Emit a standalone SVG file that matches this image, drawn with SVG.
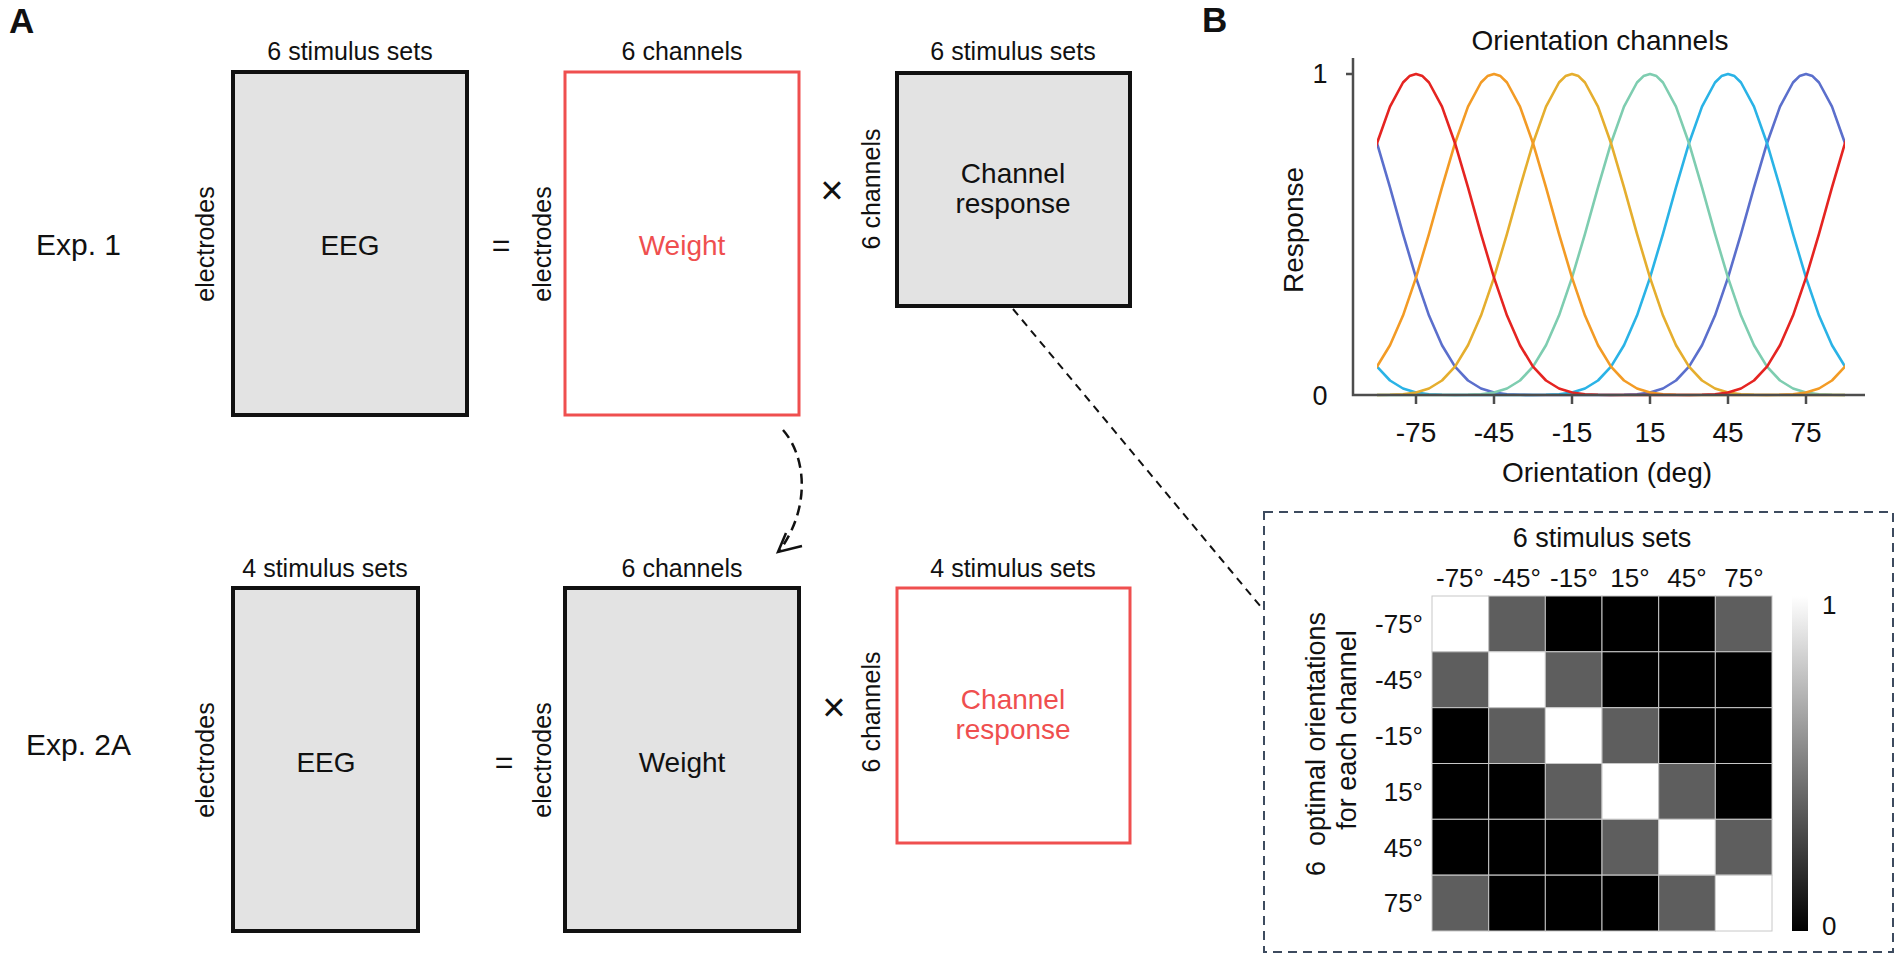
<svg xmlns="http://www.w3.org/2000/svg" xmlns:xlink="http://www.w3.org/1999/xlink" width="1901" height="961" viewBox="0 0 1901 961">
<style>
text{font-family:"Liberation Sans",Arial,sans-serif;fill:#111}
.lab{font-size:25px;text-anchor:middle}
.big{font-size:28px;text-anchor:middle}
.eq{font-size:32px;text-anchor:middle}
.x{font-size:40px;text-anchor:middle}
.red{fill:#ef4f4f}
.panel{font-size:35px;font-weight:bold}
.gbox{fill:#e3e3e3;stroke:#111;stroke-width:4}
.rbox{fill:#fff;stroke:#ef4f4f;stroke-width:3}
.ax{stroke:#4d4d4d;stroke-width:2.5;fill:none}
.tk{font-size:28px;text-anchor:middle}
.ml{font-size:26px;text-anchor:middle}
.rl{font-size:26px;text-anchor:end}
.cell{stroke:#c8c8c8;stroke-width:1}
.w{fill:#fff}.g{fill:#5e5e5e}.k{fill:#000}
.crv{stroke-width:2.6;fill:none;stroke-linejoin:round}
</style>
<defs>
<polyline id="bump" fill="none" points="-234,0 -221,0 -208,0 -195,0 -182,-0.2 -169,-0.8 -156,-2.5 -143,-6.5 -130,-14.5 -117,-28.4 -104,-49.7 -91,-79.4 -78,-117.3 -65,-161.2 -52,-207.7 -39,-251.8 -26,-288.4 -13,-312.5 -6.5,-318.9 0,-321 6.5,-318.9 13,-312.5 26,-288.4 39,-251.8 52,-207.7 65,-161.2 78,-117.3 91,-79.4 104,-49.7 117,-28.4 130,-14.5 143,-6.5 156,-2.5 169,-0.8 182,-0.2 195,0 208,0 221,0 234,0"/>
<g id="per"><use xlink:href="#bump" x="-468"/><use xlink:href="#bump"/><use xlink:href="#bump" x="468"/></g>
<clipPath id="pc"><rect x="1377" y="40" width="468" height="370"/></clipPath>
<linearGradient id="cb" x1="0" y1="0" x2="0" y2="1"><stop offset="0" stop-color="#fff"/><stop offset="1" stop-color="#000"/></linearGradient>
</defs>
<rect width="1901" height="961" fill="#fff"/>

<text class="panel" x="9" y="33">A</text>
<text class="panel" x="1202" y="32">B</text>

<g id="exp1-label"><text x="36" y="255" style="font-size:30px">Exp. 1</text></g>
<g id="exp2a-label"><text x="26" y="755" style="font-size:30px">Exp. 2A</text></g>

<g id="eeg1">
<text class="lab" x="350" y="60">6 stimulus sets</text>
<rect class="gbox" x="233" y="72" width="234" height="343"/>
<text class="lab" transform="translate(214,244) rotate(-90)">electrodes</text>
<text class="big" x="350" y="255">EEG</text>
</g>
<text class="eq" x="501" y="256">=</text>
<g id="weight1">
<text class="lab" x="682" y="60">6 channels</text>
<rect class="rbox" x="565" y="72" width="234" height="343"/>
<text class="lab" transform="translate(551,244) rotate(-90)">electrodes</text>
<text class="big red" x="682" y="255">Weight</text>
</g>
<text class="x" x="832" y="204">×</text>
<g id="chresp1">
<text class="lab" x="1013" y="60">6 stimulus sets</text>
<rect class="gbox" x="897" y="73" width="233" height="233"/>
<text class="lab" transform="translate(880,189) rotate(-90)">6 channels</text>
<text class="big" x="1013" y="183">Channel</text>
<text class="big" x="1013" y="213">response</text>
</g>

<g id="eeg2">
<text class="lab" x="325" y="577">4 stimulus sets</text>
<rect class="gbox" x="233" y="588" width="185" height="343"/>
<text class="lab" transform="translate(214,760) rotate(-90)">electrodes</text>
<text class="big" x="326" y="772">EEG</text>
</g>
<text class="eq" x="504" y="773">=</text>
<g id="weight2">
<text class="lab" x="682" y="577">6 channels</text>
<rect class="gbox" x="565" y="588" width="234" height="343"/>
<text class="lab" transform="translate(551,760) rotate(-90)">electrodes</text>
<text class="big" x="682" y="772">Weight</text>
</g>
<text class="x" x="834" y="721">×</text>
<g id="chresp2">
<text class="lab" x="1013" y="577">4 stimulus sets</text>
<rect class="rbox" x="897" y="588" width="233" height="255"/>
<text class="lab" transform="translate(880,712) rotate(-90)">6 channels</text>
<text class="big red" x="1013" y="709">Channel</text>
<text class="big red" x="1013" y="739">response</text>
</g>

<g id="connectors" fill="none" stroke="#111" stroke-width="2.5">
<path d="M783 430 C805 455 812 505 780 550" stroke-dasharray="10 6"/>
<polyline points="802,546 778,552 786,533"/>
<path d="M1013 309 L1261 607" stroke-width="2" stroke-dasharray="8 6"/>
</g>

<g id="tuning-plot">
<text class="big" x="1600" y="50">Orientation channels</text>
<g clip-path="url(#pc)">
<use xlink:href="#per" class="crv" transform="translate(1806,395)" stroke="#5b6fcc"/>
<use xlink:href="#per" class="crv" transform="translate(1728,395)" stroke="#2ab3e6"/>
<use xlink:href="#per" class="crv" transform="translate(1650,395)" stroke="#7ecdb0"/>
<use xlink:href="#per" class="crv" transform="translate(1572,395)" stroke="#e5ae2e"/>
<use xlink:href="#per" class="crv" transform="translate(1494,395)" stroke="#f39b25"/>
<use xlink:href="#per" class="crv" transform="translate(1416,395)" stroke="#e52421"/>
</g>
<path class="ax" d="M1353 58 V395 H1865 M1346 74 H1353 M1416 395 V404 M1494 395 V404 M1572 395 V404 M1650 395 V404 M1728 395 V404 M1806 395 V404"/>
<text x="1320" y="83" style="font-size:27px;text-anchor:middle">1</text>
<text x="1320" y="405" style="font-size:27px;text-anchor:middle">0</text>
<text class="tk" transform="translate(1303,230) rotate(-90)">Response</text>
<text class="tk" x="1416" y="442">-75</text>
<text class="tk" x="1494" y="442">-45</text>
<text class="tk" x="1572" y="442">-15</text>
<text class="tk" x="1650" y="442">15</text>
<text class="tk" x="1728" y="442">45</text>
<text class="tk" x="1806" y="442">75</text>
<text class="tk" x="1607" y="482">Orientation (deg)</text>
</g>

<g id="matrix-panel">
<rect x="1264" y="512" width="629" height="440" fill="none" stroke="#3d4b5f" stroke-width="2" stroke-dasharray="9 6"/>
<text x="1602" y="547" style="font-size:27px;text-anchor:middle">6 stimulus sets</text>
<text class="ml" x="1460" y="587">-75°</text>
<text class="ml" x="1517" y="587">-45°</text>
<text class="ml" x="1574" y="587">-15°</text>
<text class="ml" x="1630" y="587">15°</text>
<text class="ml" x="1687" y="587">45°</text>
<text class="ml" x="1744" y="587">75°</text>
<text class="rl" x="1423" y="633">-75°</text>
<text class="rl" x="1423" y="689">-45°</text>
<text class="rl" x="1423" y="745">-15°</text>
<text class="rl" x="1423" y="801">15°</text>
<text class="rl" x="1423" y="857">45°</text>
<text class="rl" x="1423" y="912">75°</text>
<text transform="translate(1325,744) rotate(-90)" style="font-size:27px;text-anchor:middle" xml:space="preserve">6  optimal orientations</text>
<text transform="translate(1356,730) rotate(-90)" style="font-size:27px;text-anchor:middle">for each channel</text>
<g class="cell">
<rect class="w" x="1432" y="596" width="56.7" height="55.8"/><rect class="g" x="1488.7" y="596" width="56.7" height="55.8"/><rect class="k" x="1545.3" y="596" width="56.7" height="55.8"/><rect class="k" x="1602" y="596" width="56.7" height="55.8"/><rect class="k" x="1658.7" y="596" width="56.7" height="55.8"/><rect class="g" x="1715.3" y="596" width="56.7" height="55.8"/>
<rect class="g" x="1432" y="651.8" width="56.7" height="55.8"/><rect class="w" x="1488.7" y="651.8" width="56.7" height="55.8"/><rect class="g" x="1545.3" y="651.8" width="56.7" height="55.8"/><rect class="k" x="1602" y="651.8" width="56.7" height="55.8"/><rect class="k" x="1658.7" y="651.8" width="56.7" height="55.8"/><rect class="k" x="1715.3" y="651.8" width="56.7" height="55.8"/>
<rect class="k" x="1432" y="707.7" width="56.7" height="55.8"/><rect class="g" x="1488.7" y="707.7" width="56.7" height="55.8"/><rect class="w" x="1545.3" y="707.7" width="56.7" height="55.8"/><rect class="g" x="1602" y="707.7" width="56.7" height="55.8"/><rect class="k" x="1658.7" y="707.7" width="56.7" height="55.8"/><rect class="k" x="1715.3" y="707.7" width="56.7" height="55.8"/>
<rect class="k" x="1432" y="763.5" width="56.7" height="55.8"/><rect class="k" x="1488.7" y="763.5" width="56.7" height="55.8"/><rect class="g" x="1545.3" y="763.5" width="56.7" height="55.8"/><rect class="w" x="1602" y="763.5" width="56.7" height="55.8"/><rect class="g" x="1658.7" y="763.5" width="56.7" height="55.8"/><rect class="k" x="1715.3" y="763.5" width="56.7" height="55.8"/>
<rect class="k" x="1432" y="819.3" width="56.7" height="55.8"/><rect class="k" x="1488.7" y="819.3" width="56.7" height="55.8"/><rect class="k" x="1545.3" y="819.3" width="56.7" height="55.8"/><rect class="g" x="1602" y="819.3" width="56.7" height="55.8"/><rect class="w" x="1658.7" y="819.3" width="56.7" height="55.8"/><rect class="g" x="1715.3" y="819.3" width="56.7" height="55.8"/>
<rect class="g" x="1432" y="875.2" width="56.7" height="55.8"/><rect class="k" x="1488.7" y="875.2" width="56.7" height="55.8"/><rect class="k" x="1545.3" y="875.2" width="56.7" height="55.8"/><rect class="k" x="1602" y="875.2" width="56.7" height="55.8"/><rect class="g" x="1658.7" y="875.2" width="56.7" height="55.8"/><rect class="w" x="1715.3" y="875.2" width="56.7" height="55.8"/>
</g>
<rect x="1792" y="596" width="16" height="335" fill="url(#cb)"/>
<text x="1822" y="614" style="font-size:26px">1</text>
<text x="1822" y="935" style="font-size:26px">0</text>
</g>
</svg>
